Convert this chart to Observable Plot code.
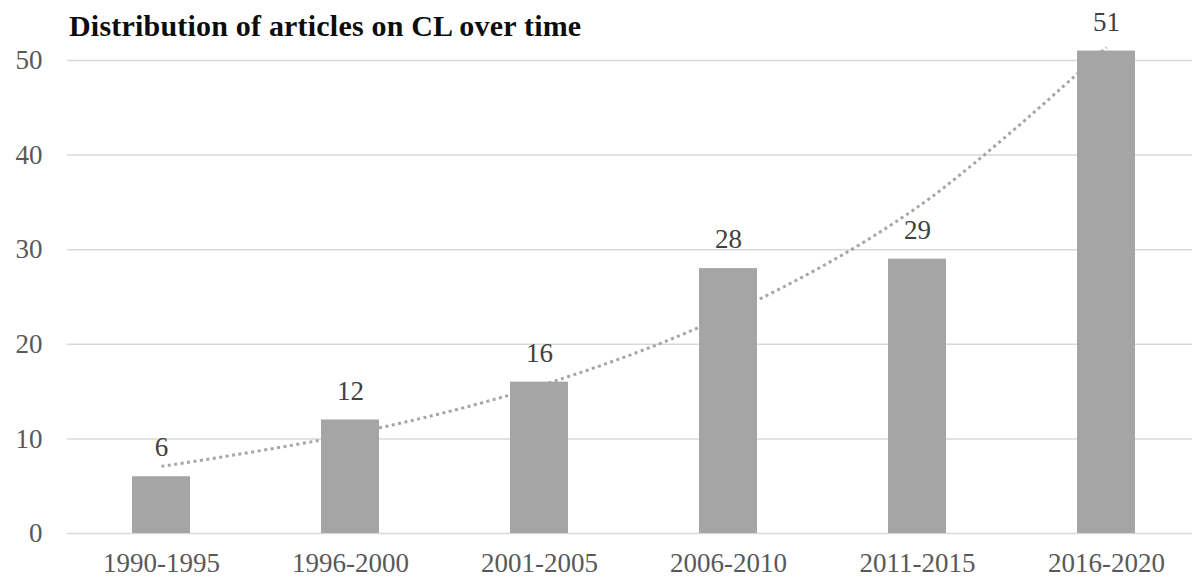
<!DOCTYPE html>
<html>
<head>
<meta charset="utf-8">
<script src="https://cdn.jsdelivr.net/npm/d3@7"></script>
<script src="https://cdn.jsdelivr.net/npm/@observablehq/plot@0.6"></script>
<style>
  html, body { margin: 0; padding: 0; background: #fff; overflow: hidden; }
  #wrap { position: relative; width: 1192px; height: 578px; }
  #title { position: absolute; left: 69px; top: 11px; font-family: "Liberation Serif", "Times New Roman", serif; font-weight: bold; font-size: 30px; letter-spacing: 0.2px; color: #0d0d0d; white-space: nowrap; line-height: 1; }
</style>
</head>
<body>
<div id="wrap">
  <div id="chart"></div>
  <div id="title">Distribution of articles on CL over time</div>
</div>
<script>
const periods = ["1990-1995", "1996-2000", "2001-2005", "2006-2010", "2011-2015", "2016-2020"];
const articles = [6, 12, 16, 28, 29, 51];
const trendValues = [7.1, 10.5, 15.6, 23.2, 34.5, 51.4];
const yTicks = [0, 10, 20, 30, 40, 50];

const bars = periods.map((p, i) => ({period: p, value: articles[i]}));
const trend = periods.map((p, i) => ({period: p, value: trendValues[i]}));

const font = "'Liberation Serif', 'Times New Roman', serif";

const chart = Plot.plot({
  width: 1192,
  height: 578,
  marginLeft: 67,
  marginRight: 0,
  marginTop: 60,
  marginBottom: 45,
  style: {fontFamily: font, background: "#fff", overflow: "visible"},
  x: {domain: periods, range: [66.5, 1200.5], paddingInner: 0.693, paddingOuter: 0.3465, label: null},
  y: {domain: [0, 50], range: [533, 60], label: null},
  marks: [
    Plot.ruleY(yTicks, {stroke: "#d9d9d9", strokeWidth: 1.5}),
    Plot.line(trend, {x: "period", y: "value", curve: "catmull-rom", stroke: "#a6a6a6", strokeWidth: 3, strokeDasharray: "3 3.5", strokeLinecap: "butt"}),
    Plot.barY(bars, {x: "period", y: "value", fill: "#a5a5a5"}),
    Plot.text(bars, {x: "period", y: "value", text: d => String(d.value), dy: -29, fontSize: 27, fill: "#404040"}),
    Plot.axisY({ticks: yTicks, tickSize: 0, tickPadding: 25, fontSize: 27, fill: "#595959", label: null}),
    Plot.axisX({tickSize: 0, tickPadding: 19, fontSize: 27, fill: "#595959", label: null})
  ]
});
document.getElementById("chart").appendChild(chart);
</script>
</body>
</html>
